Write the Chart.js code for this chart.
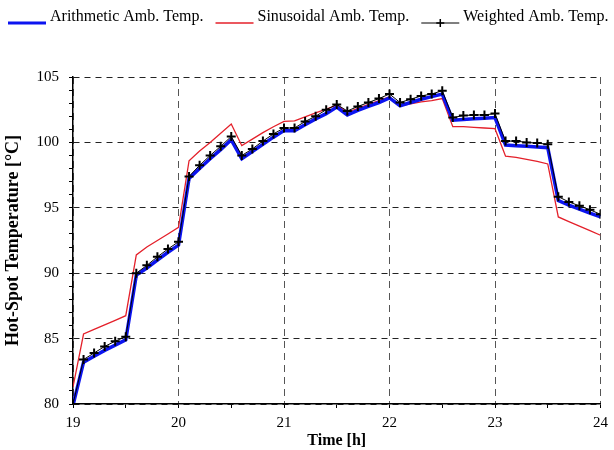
<!DOCTYPE html>
<html>
<head>
<meta charset="utf-8">
<title>Hot-Spot Temperature</title>
<script src="https://cdn.jsdelivr.net/npm/chart.js@4.4.1/dist/chart.umd.min.js"></script>
<style>
  html, body { margin: 0; padding: 0; background: #fff; }
  #wrap { width: 614px; height: 450px; }
</style>
</head>
<body>
<div id="wrap"><canvas id="myChart" width="614" height="450"></canvas></div>
<script>
// Data (time in hours, temperature in °C)
const hours = [
  19.0, 19.1, 19.2, 19.3, 19.4, 19.5, 19.6, 19.7, 19.8, 19.9,
  20.0, 20.1, 20.2, 20.3, 20.4, 20.5, 20.6, 20.7, 20.8, 20.9,
  21.0, 21.1, 21.2, 21.3, 21.4, 21.5, 21.6, 21.7, 21.8, 21.9,
  22.0, 22.1, 22.2, 22.3, 22.4, 22.5, 22.6, 22.7, 22.8, 22.9,
  23.0, 23.1, 23.2, 23.3, 23.4, 23.5, 23.6, 23.7, 23.8, 23.9,
  24.0
];
const arithmetic = [
  79.9, 83.2, 83.65, 84.1, 84.5, 84.9, 89.85, 90.4, 91.0, 91.6,
  92.15, 97.25, 98.0, 98.75, 99.45, 100.2, 98.75, 99.3, 99.85, 100.4,
  100.9, 100.9, 101.35, 101.8, 102.2, 102.7, 102.1, 102.45, 102.75, 103.05,
  103.4, 102.8, 103.05, 103.3, 103.5, 103.7, 101.7, 101.75, 101.8, 101.85,
  101.9, 99.8, 99.75, 99.7, 99.65, 99.6, 95.55, 95.2, 94.9, 94.6,
  94.3
];
const sinusoidal = [
  81.3, 85.35, 85.7, 86.05, 86.4, 86.75, 91.4, 92.0, 92.5, 93.0,
  93.5, 98.6, 99.35, 100.0, 100.7, 101.4, 99.75, 100.25, 100.75, 101.2,
  101.6, 101.65, 101.95, 102.25, 102.55, 102.85, 102.3, 102.6, 102.9, 103.2,
  103.5, 102.8, 102.95, 103.1, 103.2, 103.35, 101.2, 101.2, 101.15, 101.1,
  101.05, 98.95, 98.85, 98.7, 98.55, 98.35, 94.3, 93.95, 93.6, 93.25,
  92.9
];
const weighted = [
  80.0, 83.4, 83.9, 84.4, 84.8, 85.15, 90.0, 90.6, 91.25, 91.85,
  92.4, 97.4, 98.25, 99.0, 99.7, 100.45, 99.0, 99.5, 100.1, 100.65,
  101.1, 101.1, 101.6, 102.0, 102.5, 102.9, 102.4, 102.75, 103.05, 103.35,
  103.7, 103.05, 103.3, 103.55, 103.7, 103.95, 101.9, 102.05, 102.1, 102.1,
  102.2, 100.1, 100.1, 100.0, 99.95, 99.85, 95.85, 95.45, 95.15, 94.85,
  94.5
];
const seriesNames = ['Arithmetic Amb. Temp.', 'Sinusoidal Amb. Temp.', 'Weighted Amb. Temp.'];
const xTickLabels = [19, 20, 21, 22, 23, 24];
const yTickLabels = [80, 85, 90, 95, 100, 105];

const BLUE = '#0c14f0';
const RED = '#e4202a';
const SERIF = '"Liberation Serif", "Times New Roman", serif';

const toPoints = vals => hours.map((h, i) => ({ x: h, y: vals[i] }));

// legend drawn by hand: line sample (+ marker for weighted) then label
const topLegend = {
  id: 'topLegend',
  afterDraw(chart) {
    const ctx = chart.ctx;
    const items = [
      { color: BLUE, width: 3, cross: false },
      { color: RED, width: 1.5, cross: false },
      { color: '#000', width: 1, cross: true }
    ];
    ctx.save();
    ctx.font = '16px ' + SERIF;
    ctx.textBaseline = 'alphabetic';
    ctx.fillStyle = '#000';
    let x = 8;
    items.forEach((it, i) => {
      ctx.strokeStyle = it.color;
      ctx.lineWidth = it.width;
      ctx.beginPath();
      ctx.moveTo(x, 23);
      ctx.lineTo(x + 38, 23);
      ctx.stroke();
      if (it.cross) {
        ctx.lineWidth = 1.5;
        ctx.beginPath();
        ctx.moveTo(x + 19, 19);
        ctx.lineTo(x + 19, 27);
        ctx.moveTo(x + 15, 23);
        ctx.lineTo(x + 23, 23);
        ctx.stroke();
      }
      ctx.fillText(seriesNames[i], x + 42, 21);
      x += 42 + ctx.measureText(seriesNames[i]).width + 12;
    });
    ctx.restore();
  }
};

const ctx = document.getElementById('myChart');

new Chart(ctx, {
  type: 'line',
  data: {
    datasets: [
      {
        label: seriesNames[2],
        data: toPoints(weighted),
        borderColor: '#000',
        borderWidth: 1,
        pointStyle: 'cross',
        pointRadius: 4.5,
        pointBorderWidth: 2,
        pointBorderColor: '#000',
        order: 0
      },
      {
        label: seriesNames[0],
        data: toPoints(arithmetic),
        borderColor: BLUE,
        borderWidth: 3.5,
        pointRadius: 0,
        order: 1
      },
      {
        label: seriesNames[1],
        data: toPoints(sinusoidal),
        borderColor: RED,
        borderWidth: 1.3,
        pointRadius: 0,
        order: 2
      }
    ]
  },
  options: {
    responsive: false,
    devicePixelRatio: 1,
    animation: false,
    layout: { padding: { top: 77, right: 10, bottom: 0, left: 0 } },
    elements: { line: { tension: 0 } },
    plugins: {
      legend: { display: false },
      tooltip: { enabled: false }
    },
    scales: {
      x: {
        type: 'linear',
        min: 19,
        max: 24,
        afterFit: s => { s.height = 46; },
        ticks: {
          stepSize: 0.5,
          autoSkip: false,
          maxRotation: 0,
          padding: 6,
          color: '#000',
          font: { family: SERIF, size: 15 },
          callback: v => xTickLabels.includes(v) ? v : ''
        },
        grid: {
          color: c => Number.isInteger(c.tick.value) ? '#555' : 'transparent',
          tickColor: '#000',
          tickLength: 4,
          lineWidth: 1
        },
        border: { color: '#000', width: 1.5, dash: [7, 5] },
        title: {
          display: true,
          text: 'Time [h]',
          color: '#000',
          font: { family: SERIF, size: 16, weight: 'bold' },
          padding: { top: 0, bottom: 0 }
        }
      },
      y: {
        min: 80,
        max: 105,
        afterFit: s => { s.width = 73; },
        ticks: {
          stepSize: 1,
          autoSkip: false,
          padding: 10,
          color: '#000',
          font: { family: SERIF, size: 15 },
          callback: v => yTickLabels.includes(v) ? v : ''
        },
        grid: {
          color: c => c.tick.value % 5 === 0 ? '#222' : 'transparent',
          tickColor: '#000',
          tickLength: 4,
          lineWidth: 1
        },
        border: { color: '#000', width: 1.5, dash: [6, 5] },
        title: {
          display: true,
          text: 'Hot-Spot Temperature [°C]',
          color: '#000',
          font: { family: SERIF, size: 18, weight: 'bold' },
          padding: { top: 3, bottom: 0 }
        }
      }
    }
  },
  plugins: [topLegend]
});
</script>
</body>
</html>
